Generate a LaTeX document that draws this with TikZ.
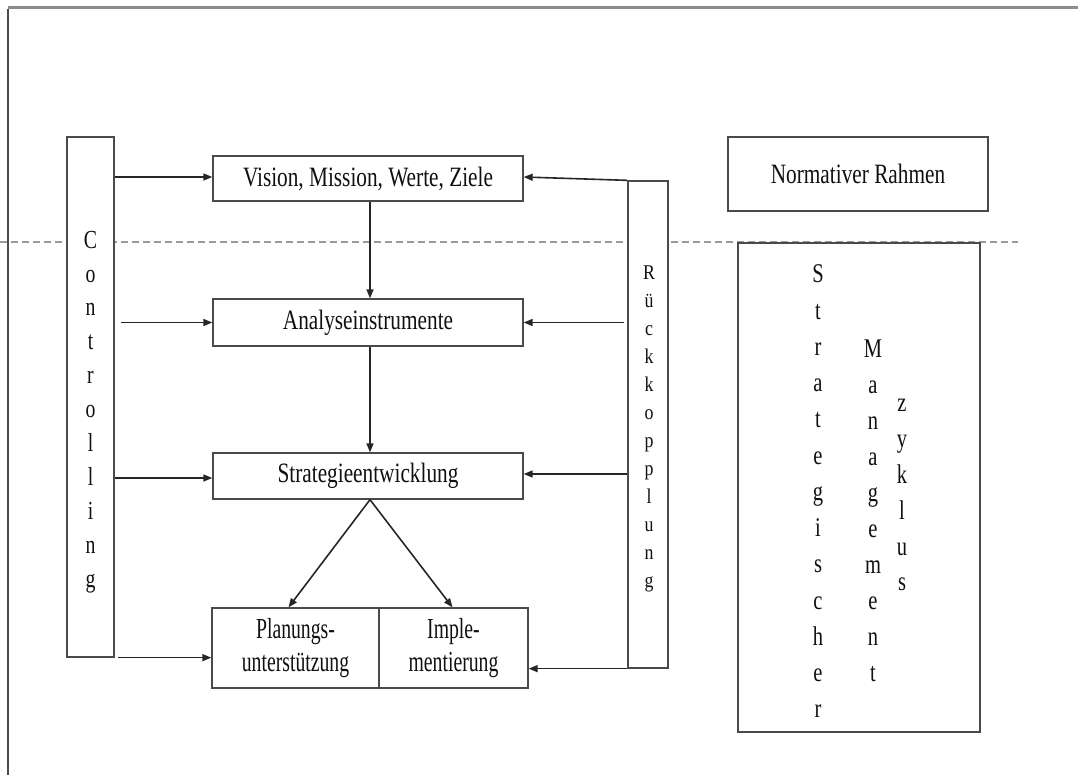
\documentclass[tikz,border=0pt]{standalone}
\usepackage{fontspec}
\setmainfont{Liberation Serif}
\newfontfamily\stretchA{Liberation Serif}[FakeStretch=0.76]
\newfontfamily\stretchB{Liberation Serif}[FakeStretch=0.68]
\newfontfamily\stretchC{Liberation Serif}[FakeStretch=0.85]
\usetikzlibrary{arrows.meta}
\definecolor{linegray}{HTML}{4A4A4A}
\definecolor{arrowgray}{HTML}{262626}
\definecolor{framegray}{HTML}{8C8C8C}
\definecolor{dashgray}{HTML}{9A9A9A}
\definecolor{textgray}{HTML}{101010}
\tikzset{
  box/.style={draw=linegray, line width=1.3pt, fill=white, inner sep=0pt},
  boxtext/.style={text=textgray, font=\stretchA\fontsize{28}{33}\selectfont},
  plantext/.style={text=textgray, align=center, font=\stretchB\fontsize{29}{33}\selectfont},
  arr/.style={draw=arrowgray, line width=1.6pt, -{Triangle[length=9pt,width=7pt]}},
  vtext/.style={text=textgray, align=center, inner sep=0pt}
}
\begin{document}
\begin{tikzpicture}[x=1pt,y=-1pt]
\useasboundingbox (0,0) rectangle (1078,775);
% outer frame
\coordinate (ftl) at (8,8);
\coordinate (ftr) at (1078,8);
\coordinate (fbl) at (8,775);
\draw[framegray, line width=3pt] (ftl) -- (ftr);
\draw[linegray, line width=2pt] ([yshift=-1.5pt]ftl) -- (fbl);
% dashed separator
\coordinate (dl) at (0,242);
\coordinate (dr) at (1018,242);
\draw[dashgray, line width=1.2pt, dash pattern=on 7pt off 4pt] (dl) -- (dr);

% boxes
\node[box, minimum width=47pt, minimum height=520pt] (ctrl) at (90.5,397) {};
\node[box, minimum width=310pt, minimum height=45pt, boxtext] (vision) at (368,178.5) {Vision, Mission, Werte, Ziele};
\node[box, minimum width=310pt, minimum height=47pt, boxtext] (analyse) at (368,322.5) {Analyseinstrumente};
\node[box, minimum width=310pt, minimum height=46pt, boxtext] (strat) at (368,476) {Strategieentwicklung};
\node[box, minimum width=167pt, minimum height=80pt, plantext] (plan) at (295.5,648) {Planungs-\\unterstützung};
\node[box, minimum width=149pt, minimum height=80pt, plantext] (impl) at (453.5,648) {Imple-\\mentierung};
\node[box, minimum width=40pt, minimum height=487pt] (rueck) at (648,424.5) {};
\node[box, minimum width=260pt, minimum height=74pt, boxtext] (norm) at (858,174) {Normativer Rahmen};
\node[box, minimum width=242pt, minimum height=489pt] (smz) at (859,487.5) {};

% vertical texts
\node[vtext, font=\stretchA\fontsize{26}{33.9}\selectfont] (ctrltxt) at (90.5,411.8)
  {C\\o\\n\\t\\r\\o\\l\\l\\i\\n\\g};
\node[vtext, font=\stretchC\fontsize{21}{28}\selectfont] (ruecktxt) at (649,429.3)
  {R\\ü\\c\\k\\k\\o\\p\\p\\l\\u\\n\\g};
\node[vtext, font=\stretchA\fontsize{27}{36.25}\selectfont] (strtxt) at (818,491.4)
  {S\\t\\r\\a\\t\\e\\g\\i\\s\\c\\h\\e\\r};
\node[vtext, font=\stretchA\fontsize{27}{36}\selectfont] (mgttxt) at (873,511)
  {M\\a\\n\\a\\g\\e\\m\\e\\n\\t};
\node[vtext, font=\stretchA\fontsize{27}{35.8}\selectfont] (zyktxt) at (902,495.4)
  {z\\y\\k\\l\\u\\s};

% arrows from Controlling
\draw[arr] ([yshift=1.5pt]vision.west -| ctrl.east) -- ([yshift=1.5pt]vision.west);
\draw[arr] ([xshift=6pt]analyse.west -| ctrl.east) -- (analyse.west);
\draw[arr] ([yshift=-2pt]strat.west -| ctrl.east) -- ([yshift=-2pt]strat.west);
\draw[arr] ([xshift=3pt]ctrl.south east) -- (ctrl.south east -| plan.west);

% arrows from Rueckkopplung
\draw[arr] (rueck.north west) -- ([yshift=1.5pt]vision.east);
\draw[arr] ([xshift=-3pt]analyse.east -| rueck.west) -- (analyse.east);
\draw[arr] ([yshift=2pt]strat.east -| rueck.west) -- ([yshift=2pt]strat.east);
\draw[arr] (rueck.south west) -- (rueck.south west -| impl.east);

% flow arrows
\draw[arr] ([xshift=2pt]vision.south) -- ([xshift=2pt]analyse.north);
\draw[arr] ([xshift=2pt]analyse.south) -- ([xshift=2pt]strat.north);
\draw[arr] ([xshift=2pt]strat.south) -- ([xshift=-7pt]plan.north);
\draw[arr] ([xshift=2pt]strat.south) -- ([xshift=-1pt]impl.north);
\end{tikzpicture}
\end{document}
